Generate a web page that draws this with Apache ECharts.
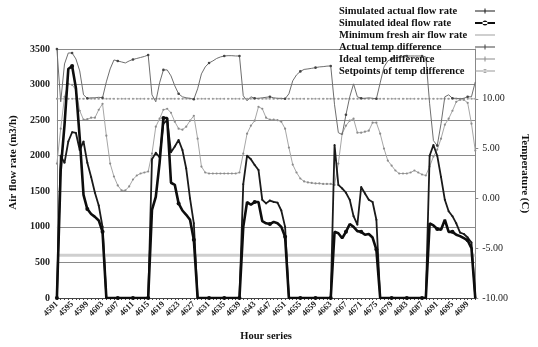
<!DOCTYPE html>
<html><head><meta charset="utf-8">
<script src="https://cdn.jsdelivr.net/npm/echarts@6/dist/echarts.min.js"></script>
<style>html,body{margin:0;padding:0;background:#fff}#c{width:538px;height:347px}</style>
</head><body><div id="c"></div>
<script>
const hours = [4591,4592,4593,4594,4595,4596,4597,4598,4599,4600,4601,4602,4603,4604,4605,4606,4607,4608,4609,4610,
4611,4612,4613,4614,4615,4616,4617,4618,4619,4620,4621,4622,4623,4624,4625,4626,4627,4628,4629,4630,
4631,4632,4633,4634,4635,4636,4637,4638,4639,4640,4641,4642,4643,4644,4645,4646,4647,4648,4649,4650,
4651,4652,4653,4654,4655,4656,4657,4658,4659,4660,4661,4662,4663,4664,4665,4666,4667,4668,4669,4670,
4671,4672,4673,4674,4675,4676,4677,4678,4679,4680,4681,4682,4683,4684,4685,4686,4687,4688,4689,4690,
4691,4692,4693,4694,4695,4696,4697,4698,4699,4700,4701];

const actualFlow = [0,2000,1900,2200,2330,2320,2080,2200,1900,1700,1480,1300,1000,
0,0,0,0,0,0,0,0,0,0,0,0,
1950,2040,1980,2450,2500,2050,2130,2220,2080,1820,1400,1050,
0,0,0,0,0,0,0,0,0,0,0,0,
1600,2000,1950,1870,1800,1380,1330,1370,1350,1340,1230,1000,
0,0,0,0,0,0,0,0,0,0,0,0,
2150,1590,1540,1480,1380,1150,1030,1560,1470,1380,1350,1100,
0,0,0,0,0,0,0,0,0,0,0,0,0,
2000,2150,2000,1700,1380,1220,1150,1050,920,900,850,780,0];

const idealFlow = [0,1800,2430,3220,3260,2950,2250,1450,1250,1180,1140,1090,930,
0,0,0,0,0,0,0,0,0,0,0,0,
1240,1420,1900,2530,2530,1620,1590,1330,1230,1170,1100,820,
0,0,0,0,0,0,0,0,0,0,0,0,
1000,1350,1310,1350,1350,1080,1050,1040,1070,1050,1000,860,
0,0,0,0,0,0,0,0,0,0,0,0,
930,910,840,930,1040,1000,940,930,890,900,850,680,
0,0,0,0,0,0,0,0,0,0,0,0,0,
1050,1020,970,960,1100,930,930,890,870,840,810,700,0];

const minFreshAir = [600,600,600,600,600,600,600,600,600,600,600,600,600,600,600,600,600,600,600,600,
600,600,600,600,600,600,600,600,600,600,600,600,600,600,600,600,600,600,600,600,
600,600,600,600,600,600,600,600,600,600,600,600,600,600,600,600,600,600,600,600,
600,600,600,600,600,600,600,600,600,600,600,600,600,600,600,600,600,600,600,600,
600,600,600,600,600,600,600,600,600,600,600,600,600,600,600,600,600,600,600,600,
600,600,600,600,600,600,600,600,600,600,600];

const actualTemp = [15.0,9.7,13.5,14.6,14.6,14.0,12.8,10.4,10.05,10.1,10.1,10.15,10.1,
11.7,13.0,13.9,13.8,13.7,13.6,13.8,13.95,14.05,14.15,14.25,14.4,
10.4,9.7,11.6,12.9,12.9,12.3,11.3,10.5,10.2,10.1,10.05,9.95,
11.0,12.5,13.2,13.6,13.8,14.05,14.2,14.3,14.33,14.33,14.3,14.3,
10.3,9.8,10.2,10.05,10.05,10.1,10.15,10.2,10.1,10.05,10.05,10.0,
10.5,11.8,12.4,12.75,12.95,13.0,13.06,13.13,13.2,13.23,13.28,13.3,
9.4,6.6,6.4,8.4,10.2,11.5,10.2,10.05,10.05,10.1,10.05,10.0,
11.6,13.2,13.8,14.0,14.1,14.2,14.25,14.3,14.3,14.3,14.3,14.3,14.2,
9.5,5.8,5.3,7.5,10.2,10.4,10.05,10.05,10.0,10.05,10.2,10.2,11.7];

const idealTemp = [3.5,7.0,10.2,11.5,11.4,10.9,8.8,7.9,7.95,8.1,8.1,8.9,9.5,
6.3,3.5,2.2,1.3,0.8,0.8,1.2,1.9,2.3,2.5,2.6,2.7,
4.5,7.2,8.0,8.9,9.0,8.6,7.7,7.0,6.9,7.2,7.8,8.3,
6.0,3.2,2.6,2.5,2.5,2.5,2.5,2.5,2.5,2.5,2.5,2.6,
4.5,6.5,7.3,7.8,9.2,9.0,8.1,7.9,7.9,7.85,7.7,7.0,
5.1,3.4,2.6,2.0,1.7,1.6,1.55,1.5,1.5,1.45,1.45,1.45,
1.35,3.5,6.5,7.3,7.8,8.0,6.6,6.6,6.7,6.8,7.6,7.6,
6.5,5.0,3.8,3.3,2.8,2.5,2.5,2.5,2.6,2.8,2.6,2.4,2.3,
3.2,4.2,4.9,6.0,7.4,8.0,8.8,9.7,9.9,9.9,9.6,7.5,4.8];

const setpointTemp = [10,10,10,10,10,10,10,10,10,10,10,10,10,10,10,10,10,10,10,10,
10,10,10,10,10,10,10,10,10,10,10,10,10,10,10,10,10,10,10,10,
10,10,10,10,10,10,10,10,10,10,10,10,10,10,10,10,10,10,10,10,
10,10,10,10,10,10,10,10,10,10,10,10,10,10,10,10,10,10,10,10,
10,10,10,10,10,10,10,10,10,10,10,10,10,10,10,10,10,10,10,10,
10,10,10,10,10,10,10,10,10,10,10];

const seriesNames = ['Simulated actual flow rate','Simulated ideal flow rate','Minimum fresh air flow rate',
  'Actual temp difference','Ideal temp difference','Setpoints of temp difference'];
const flowTicks = [0, 3500, 500];
const tempTicks = [-10, 15, 5];

const ICON_PLUS = 'path://M0,3.5h20v1h-20zM9.5,1.5h1v5h-1z';
const ICON_DOT_THICK = 'path://M0,3h20v2h-20zM7.5,4a2.5,2.5 0 1,0 5,0a2.5,2.5 0 1,0 -5,0z';
const ICON_LINE = 'path://M0,3h20v2h-20z';
const ICON_DOT = 'path://M0,3.5h20v1h-20zM8,4a2,2 0 1,0 4,0a2,2 0 1,0 -4,0z';

const serif = '"Liberation Serif","Times New Roman",serif';
const chart = echarts.init(document.getElementById('c'), null, {renderer:'canvas'});
chart.setOption({
  animation:false,
  backgroundColor:'#fff',
  grid:{left:51,right:53,top:49,bottom:49,containLabel:false},
  legend:{
    orient:'vertical', left:334, top:0, itemGap:0, itemWidth:20, itemHeight:8, align:'right',
    symbolKeepAspect:true,
    data:[
      {name:seriesNames[0],icon:ICON_PLUS},
      {name:seriesNames[1],icon:ICON_DOT_THICK},
      {name:seriesNames[2],icon:ICON_LINE},
      {name:seriesNames[3],icon:ICON_PLUS},
      {name:seriesNames[4],icon:ICON_PLUS},
      {name:seriesNames[5],icon:ICON_DOT}
    ],
    formatter:function(n){return '{t|'+n+'}';},
    textStyle:{fontFamily:serif,fontWeight:'bold',fontSize:10.5,color:'#111',lineHeight:12,
      rich:{t:{width:131,align:'left',fontFamily:serif,fontWeight:'bold',fontSize:10.5,color:'#111',lineHeight:12}}}
  },
  xAxis:{
    type:'category', data:hours, boundaryGap:false,
    name:'Hour series', nameLocation:'middle', nameGap:33,
    nameTextStyle:{fontFamily:serif,fontWeight:'bold',fontSize:10.5,color:'#111'},
    axisLine:{lineStyle:{color:'#444',width:1}},
    axisTick:{show:true,interval:0,length:2,inside:false,lineStyle:{color:'#444'}},
    axisLabel:{interval:3,rotate:45,fontFamily:serif,fontWeight:'bold',fontSize:8.5,color:'#222',margin:5},
    splitLine:{show:false}
  },
  yAxis:[{
    type:'value', min:flowTicks[0], max:flowTicks[1], interval:flowTicks[2],
    name:'Air flow rate (m3/h)', nameLocation:'middle', nameGap:33, nameRotate:90,
    nameTextStyle:{fontFamily:serif,fontWeight:'bold',fontSize:11,color:'#111',padding:[0,0,0,22]},
    axisLine:{show:true,lineStyle:{color:'#888',width:1}},
    axisTick:{show:false},
    axisLabel:{fontFamily:serif,fontWeight:'bold',fontSize:10,color:'#222',margin:7,
      formatter:function(v){return String(v);}},
    splitLine:{show:true,lineStyle:{color:'#8a8a8a',width:1.2}}
  },{
    type:'value', min:tempTicks[0], max:tempTicks[1], interval:tempTicks[2], position:'right',
    name:'Temperature (C)', nameLocation:'middle', nameGap:38, nameRotate:-90,
    nameTextStyle:{fontFamily:serif,fontWeight:'bold',fontSize:11,color:'#111'},
    axisLine:{show:true,lineStyle:{color:'#888',width:1}},
    axisTick:{show:true,length:3,lineStyle:{color:'#888'}},
    axisLabel:{fontFamily:serif,fontSize:10,color:'#222',margin:7,showMaxLabel:false,
      formatter:function(v){return v>=15?'':v.toFixed(2);}},
    splitLine:{show:false}
  }],
  series:[
    {name:seriesNames[0],type:'line',yAxisIndex:0,data:actualFlow,z:5,
      lineStyle:{color:'#1a1a1a',width:1.8},itemStyle:{color:'#1a1a1a'},symbol:'circle',symbolSize:2},
    {name:seriesNames[1],type:'line',yAxisIndex:0,data:idealFlow,z:6,
      lineStyle:{color:'#0d0d0d',width:2.6},itemStyle:{color:'#0d0d0d'},symbol:'circle',symbolSize:4},
    {name:seriesNames[2],type:'line',yAxisIndex:0,data:minFreshAir,z:1,
      lineStyle:{color:'#cfcfcf',width:3},itemStyle:{color:'#cfcfcf'},symbol:'none'},
    {name:seriesNames[3],type:'line',yAxisIndex:1,data:actualTemp,z:3,
      lineStyle:{color:'#6e6e6e',width:1},itemStyle:{color:'#444'},symbol:'circle',symbolSize:2.6},
    {name:seriesNames[4],type:'line',yAxisIndex:1,data:idealTemp,z:2,
      lineStyle:{color:'#a6a6a6',width:1},itemStyle:{color:'#8c8c8c'},symbol:'circle',symbolSize:2.2},
    {name:seriesNames[5],type:'line',yAxisIndex:1,data:setpointTemp,z:2,
      lineStyle:{color:'#b0b0b0',width:1,type:[3,2]},itemStyle:{color:'#999'},symbol:'circle',symbolSize:2}
  ]
});
</script></body></html>
